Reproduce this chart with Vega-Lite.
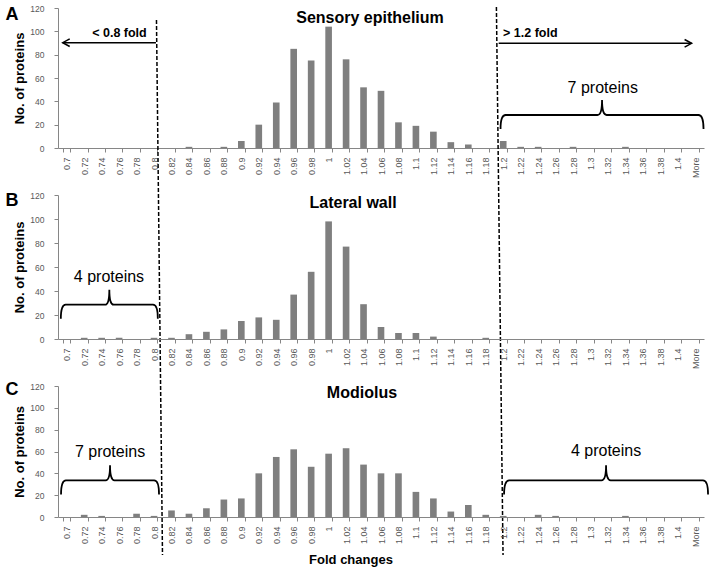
{
  "$schema": "https://vega.github.io/schema/vega-lite/v6.json",
  "autosize": {"type": "pad"},
  "padding": {"left": 5, "top": 4, "right": 0, "bottom": 0},
  "background": "white",
  "bounds": "flush",
  "spacing": 47,
  "config": {
    "view": {"stroke": null},
    "font": "Liberation Sans",
    "axis": {"domainColor": "#868686", "tickColor": "#868686", "labelColor": "#595959", "labelFontSize": 8.5, "tickSize": 4, "grid": false, "titleFontSize": 13, "titleFontWeight": "bold", "titleColor": "#000000", "labelFont": "Liberation Sans", "titleFont": "Liberation Sans"},
    "text": {"font": "Liberation Sans", "color": "#000000"}
  },
  "datasets": {
    "hist": [
      {"panel": "A", "bin": "0.7", "count": 0}, {"panel": "A", "bin": "0.72", "count": 0}, {"panel": "A", "bin": "0.74", "count": 0}, {"panel": "A", "bin": "0.76", "count": 0}, {"panel": "A", "bin": "0.78", "count": 0}, {"panel": "A", "bin": "0.8", "count": 0}, {"panel": "A", "bin": "0.82", "count": 0}, {"panel": "A", "bin": "0.84", "count": 1}, {"panel": "A", "bin": "0.86", "count": 0}, {"panel": "A", "bin": "0.88", "count": 1}, {"panel": "A", "bin": "0.9", "count": 6}, {"panel": "A", "bin": "0.92", "count": 20}, {"panel": "A", "bin": "0.94", "count": 39}, {"panel": "A", "bin": "0.96", "count": 85}, {"panel": "A", "bin": "0.98", "count": 75}, {"panel": "A", "bin": "1", "count": 104}, {"panel": "A", "bin": "1.02", "count": 76}, {"panel": "A", "bin": "1.04", "count": 52}, {"panel": "A", "bin": "1.06", "count": 49}, {"panel": "A", "bin": "1.08", "count": 22}, {"panel": "A", "bin": "1.1", "count": 19}, {"panel": "A", "bin": "1.12", "count": 14}, {"panel": "A", "bin": "1.14", "count": 5}, {"panel": "A", "bin": "1.16", "count": 3}, {"panel": "A", "bin": "1.18", "count": 0}, {"panel": "A", "bin": "1.2", "count": 6}, {"panel": "A", "bin": "1.22", "count": 1}, {"panel": "A", "bin": "1.24", "count": 1}, {"panel": "A", "bin": "1.26", "count": 0}, {"panel": "A", "bin": "1.28", "count": 1}, {"panel": "A", "bin": "1.3", "count": 0}, {"panel": "A", "bin": "1.32", "count": 0}, {"panel": "A", "bin": "1.34", "count": 1}, {"panel": "A", "bin": "1.36", "count": 0}, {"panel": "A", "bin": "1.38", "count": 0}, {"panel": "A", "bin": "1.4", "count": 0}, {"panel": "A", "bin": "More", "count": 0},
      {"panel": "B", "bin": "0.7", "count": 0}, {"panel": "B", "bin": "0.72", "count": 1}, {"panel": "B", "bin": "0.74", "count": 1}, {"panel": "B", "bin": "0.76", "count": 1}, {"panel": "B", "bin": "0.78", "count": 0}, {"panel": "B", "bin": "0.8", "count": 1}, {"panel": "B", "bin": "0.82", "count": 1}, {"panel": "B", "bin": "0.84", "count": 4}, {"panel": "B", "bin": "0.86", "count": 6}, {"panel": "B", "bin": "0.88", "count": 8}, {"panel": "B", "bin": "0.9", "count": 15}, {"panel": "B", "bin": "0.92", "count": 18}, {"panel": "B", "bin": "0.94", "count": 16}, {"panel": "B", "bin": "0.96", "count": 37}, {"panel": "B", "bin": "0.98", "count": 56}, {"panel": "B", "bin": "1", "count": 98}, {"panel": "B", "bin": "1.02", "count": 77}, {"panel": "B", "bin": "1.04", "count": 29}, {"panel": "B", "bin": "1.06", "count": 10}, {"panel": "B", "bin": "1.08", "count": 5}, {"panel": "B", "bin": "1.1", "count": 5}, {"panel": "B", "bin": "1.12", "count": 2}, {"panel": "B", "bin": "1.14", "count": 0}, {"panel": "B", "bin": "1.16", "count": 0}, {"panel": "B", "bin": "1.18", "count": 1}, {"panel": "B", "bin": "1.2", "count": 0}, {"panel": "B", "bin": "1.22", "count": 0}, {"panel": "B", "bin": "1.24", "count": 0}, {"panel": "B", "bin": "1.26", "count": 0}, {"panel": "B", "bin": "1.28", "count": 0}, {"panel": "B", "bin": "1.3", "count": 0}, {"panel": "B", "bin": "1.32", "count": 0}, {"panel": "B", "bin": "1.34", "count": 0}, {"panel": "B", "bin": "1.36", "count": 0}, {"panel": "B", "bin": "1.38", "count": 0}, {"panel": "B", "bin": "1.4", "count": 0}, {"panel": "B", "bin": "More", "count": 0},
      {"panel": "C", "bin": "0.7", "count": 0}, {"panel": "C", "bin": "0.72", "count": 2}, {"panel": "C", "bin": "0.74", "count": 1}, {"panel": "C", "bin": "0.76", "count": 0}, {"panel": "C", "bin": "0.78", "count": 3}, {"panel": "C", "bin": "0.8", "count": 1}, {"panel": "C", "bin": "0.82", "count": 6}, {"panel": "C", "bin": "0.84", "count": 3}, {"panel": "C", "bin": "0.86", "count": 8}, {"panel": "C", "bin": "0.88", "count": 16}, {"panel": "C", "bin": "0.9", "count": 17}, {"panel": "C", "bin": "0.92", "count": 40}, {"panel": "C", "bin": "0.94", "count": 55}, {"panel": "C", "bin": "0.96", "count": 62}, {"panel": "C", "bin": "0.98", "count": 46}, {"panel": "C", "bin": "1", "count": 58}, {"panel": "C", "bin": "1.02", "count": 63}, {"panel": "C", "bin": "1.04", "count": 48}, {"panel": "C", "bin": "1.06", "count": 40}, {"panel": "C", "bin": "1.08", "count": 40}, {"panel": "C", "bin": "1.1", "count": 23}, {"panel": "C", "bin": "1.12", "count": 17}, {"panel": "C", "bin": "1.14", "count": 5}, {"panel": "C", "bin": "1.16", "count": 11}, {"panel": "C", "bin": "1.18", "count": 2}, {"panel": "C", "bin": "1.2", "count": 1}, {"panel": "C", "bin": "1.22", "count": 0}, {"panel": "C", "bin": "1.24", "count": 2}, {"panel": "C", "bin": "1.26", "count": 1}, {"panel": "C", "bin": "1.28", "count": 0}, {"panel": "C", "bin": "1.3", "count": 0}, {"panel": "C", "bin": "1.32", "count": 0}, {"panel": "C", "bin": "1.34", "count": 1}, {"panel": "C", "bin": "1.36", "count": 0}, {"panel": "C", "bin": "1.38", "count": 0}, {"panel": "C", "bin": "1.4", "count": 0}, {"panel": "C", "bin": "More", "count": 0}
    ]
  },
  "vconcat": [
    {
      "width": 646, "height": 140,
      "layer": [
        {
          "data": {"name": "hist"},
          "transform": [{"filter": "datum.panel == 'A'"}],
          "mark": {"type": "bar", "color": "#7f7f7f"},
          "encoding": {
            "x": {"field": "bin", "type": "ordinal", "sort": null, "scale": {"paddingInner": 0.62, "paddingOuter": 0.31}, "axis": {"title": null, "labelAngle": -90, "labelFontSize": 9, "tickBand": "extent", "labelPadding": 5}},
            "y": {"field": "count", "type": "quantitative", "scale": {"domain": [0, 120], "nice": false}, "axis": {"title": "No. of proteins", "values": [0, 20, 40, 60, 80, 100, 120], "labelPadding": 10, "titlePadding": 3}}
          }
        },
        {
          "data": {"values": [{}]},
          "layer": [
            {"mark": {"type": "text", "text": "Sensory epithelium", "fontSize": 16, "fontWeight": "bold", "align": "center", "baseline": "middle"},
             "encoding": {"x": {"datum": 17.87, "type": "quantitative", "scale": {"domain": [0, 37], "nice": false, "zero": false}, "axis": null}, "y": {"datum": 111.4, "type": "quantitative", "scale": {"domain": [0, 120], "nice": false, "zero": false}, "axis": null}}},
            {"mark": {"type": "text", "text": "A", "fontSize": 18, "fontWeight": "bold", "align": "center", "baseline": "middle"},
             "encoding": {"x": {"datum": -2.63, "type": "quantitative"}, "y": {"datum": 114, "type": "quantitative"}}},
            {"mark": {"type": "text", "text": "< 0.8 fold", "fontSize": 12.5, "fontWeight": "bold", "align": "center", "baseline": "middle"},
             "encoding": {"x": {"datum": 3.52, "type": "quantitative"}, "y": {"datum": 98.6, "type": "quantitative"}}},
            {"mark": {"type": "text", "text": "> 1.2 fold", "fontSize": 12.5, "fontWeight": "bold", "align": "center", "baseline": "middle"},
             "encoding": {"x": {"datum": 27.05, "type": "quantitative"}, "y": {"datum": 98.6, "type": "quantitative"}}},
            {"mark": {"type": "rule", "color": "black", "strokeWidth": 1.5},
             "encoding": {"x": {"datum": 0.27, "type": "quantitative"}, "x2": {"datum": 5.61}, "y": {"datum": 90.3, "type": "quantitative"}}},
            {"mark": {"type": "point", "shape": "M1,-0.55L0,0L1,0.55", "size": 196, "filled": false, "color": "black", "strokeWidth": 1.5, "opacity": 1},
             "encoding": {"x": {"datum": 0.27, "type": "quantitative"}, "y": {"datum": 90.3, "type": "quantitative"}}},
            {"mark": {"type": "rule", "color": "black", "strokeWidth": 1.5},
             "encoding": {"x": {"datum": 25.24, "type": "quantitative"}, "x2": {"datum": 36.29}, "y": {"datum": 89.7, "type": "quantitative"}}},
            {"mark": {"type": "point", "shape": "M-1,-0.55L0,0L-1,0.55", "size": 196, "filled": false, "color": "black", "strokeWidth": 1.5, "opacity": 1},
             "encoding": {"x": {"datum": 36.29, "type": "quantitative"}, "y": {"datum": 89.7, "type": "quantitative"}}},
            {"mark": {"type": "text", "text": "7 proteins", "fontSize": 16, "align": "center", "baseline": "middle"},
             "encoding": {"x": {"datum": 31.2, "type": "quantitative"}, "y": {"datum": 51.4, "type": "quantitative"}}},
            {"mark": {"type": "point", "shape": "M-1,0.138Q-1,0 -0.95,0L-0.045,0Q0,0 0,-0.148Q0,0 0.045,0L0.95,0Q1,0 1,0.138", "size": 41209, "filled": false, "color": "black", "strokeWidth": 1.8, "opacity": 1},
             "encoding": {"x": {"datum": 31.16, "type": "quantitative"}, "y": {"datum": 28.3, "type": "quantitative"}}},
            {"mark": {"type": "rule", "color": "black", "strokeWidth": 1.5, "strokeDash": [4, 2]},
             "encoding": {"x": {"datum": 5.64, "type": "quantitative"}, "x2": {"datum": 5.985}, "y": {"datum": 109.7, "type": "quantitative"}, "y2": {"datum": -348.9}}},
            {"mark": {"type": "rule", "color": "black", "strokeWidth": 1.5, "strokeDash": [4, 2]},
             "encoding": {"x": {"datum": 25.11, "type": "quantitative"}, "x2": {"datum": 25.49}, "y": {"datum": 120.9, "type": "quantitative"}, "y2": {"datum": -348.9}}}
          ]
        }
      ],
      "resolve": {"scale": {"x": "independent", "y": "independent"}, "axis": {"x": "independent", "y": "independent"}}
    },
    {
      "width": 646, "height": 144,
      "layer": [
        {
          "data": {"name": "hist"},
          "transform": [{"filter": "datum.panel == 'B'"}],
          "mark": {"type": "bar", "color": "#7f7f7f"},
          "encoding": {
            "x": {"field": "bin", "type": "ordinal", "sort": null, "scale": {"paddingInner": 0.62, "paddingOuter": 0.31}, "axis": {"title": null, "labelAngle": -90, "labelFontSize": 9, "tickBand": "extent", "labelPadding": 5}},
            "y": {"field": "count", "type": "quantitative", "scale": {"domain": [0, 120], "nice": false}, "axis": {"title": "No. of proteins", "values": [0, 20, 40, 60, 80, 100, 120], "labelPadding": 10, "titlePadding": 3}}
          }
        },
        {
          "data": {"values": [{}]},
          "layer": [
            {"mark": {"type": "text", "text": "Lateral wall", "fontSize": 16, "fontWeight": "bold", "align": "center", "baseline": "middle"},
             "encoding": {"x": {"datum": 16.9, "type": "quantitative", "scale": {"domain": [0, 37], "nice": false, "zero": false}, "axis": null}, "y": {"datum": 113.3, "type": "quantitative", "scale": {"domain": [0, 120], "nice": false, "zero": false}, "axis": null}}},
            {"mark": {"type": "text", "text": "B", "fontSize": 18, "fontWeight": "bold", "align": "center", "baseline": "middle"},
             "encoding": {"x": {"datum": -2.63, "type": "quantitative"}, "y": {"datum": 115, "type": "quantitative"}}},
            {"mark": {"type": "text", "text": "4 proteins", "fontSize": 16, "align": "center", "baseline": "middle"},
             "encoding": {"x": {"datum": 2.92, "type": "quantitative"}, "y": {"datum": 51.7, "type": "quantitative"}}},
            {"mark": {"type": "point", "shape": "M-1,0.29Q-1,0 -0.9,0L-0.09,0Q0,0 0,-0.31Q0,0 0.09,0L0.9,0Q1,0 1,0.29", "size": 9409, "filled": false, "color": "black", "strokeWidth": 1.8, "opacity": 1},
             "encoding": {"x": {"datum": 2.94, "type": "quantitative"}, "y": {"datum": 28.6, "type": "quantitative"}}}
          ]
        }
      ],
      "resolve": {"scale": {"x": "independent", "y": "independent"}, "axis": {"x": "independent", "y": "independent"}}
    },
    {
      "width": 646, "height": 131,
      "layer": [
        {
          "data": {"name": "hist"},
          "transform": [{"filter": "datum.panel == 'C'"}],
          "mark": {"type": "bar", "color": "#7f7f7f"},
          "encoding": {
            "x": {"field": "bin", "type": "ordinal", "sort": null, "scale": {"paddingInner": 0.62, "paddingOuter": 0.31}, "axis": {"title": null, "labelAngle": -90, "labelFontSize": 9, "tickBand": "extent", "labelPadding": 5}},
            "y": {"field": "count", "type": "quantitative", "scale": {"domain": [0, 120], "nice": false}, "axis": {"title": "No. of proteins", "values": [0, 20, 40, 60, 80, 100, 120], "labelPadding": 10, "titlePadding": 3}}
          }
        },
        {
          "data": {"values": [{}]},
          "layer": [
            {"mark": {"type": "text", "text": "Modiolus", "fontSize": 16, "fontWeight": "bold", "align": "center", "baseline": "middle"},
             "encoding": {"x": {"datum": 17.41, "type": "quantitative", "scale": {"domain": [0, 37], "nice": false, "zero": false}, "axis": null}, "y": {"datum": 113.6, "type": "quantitative", "scale": {"domain": [0, 120], "nice": false, "zero": false}, "axis": null}}},
            {"mark": {"type": "text", "text": "C", "fontSize": 18, "fontWeight": "bold", "align": "center", "baseline": "middle"},
             "encoding": {"x": {"datum": -2.63, "type": "quantitative"}, "y": {"datum": 116.3, "type": "quantitative"}}},
            {"mark": {"type": "text", "text": "7 proteins", "fontSize": 16, "align": "center", "baseline": "middle"},
             "encoding": {"x": {"datum": 2.98, "type": "quantitative"}, "y": {"datum": 59.8, "type": "quantitative"}}},
            {"mark": {"type": "point", "shape": "M-1,0.29Q-1,0 -0.9,0L-0.09,0Q0,0 0,-0.31Q0,0 0.09,0L0.9,0Q1,0 1,0.29", "size": 9604, "filled": false, "color": "black", "strokeWidth": 1.8, "opacity": 1},
             "encoding": {"x": {"datum": 2.98, "type": "quantitative"}, "y": {"datum": 33.6, "type": "quantitative"}}},
            {"mark": {"type": "text", "text": "4 proteins", "fontSize": 16, "align": "center", "baseline": "middle"},
             "encoding": {"x": {"datum": 31.39, "type": "quantitative"}, "y": {"datum": 60.5, "type": "quantitative"}}},
            {"mark": {"type": "point", "shape": "M-1,0.138Q-1,0 -0.95,0L-0.045,0Q0,0 0,-0.148Q0,0 0.045,0L0.95,0Q1,0 1,0.138", "size": 41616, "filled": false, "color": "black", "strokeWidth": 1.8, "opacity": 1},
             "encoding": {"x": {"datum": 31.39, "type": "quantitative"}, "y": {"datum": 33.6, "type": "quantitative"}}},
            {"mark": {"type": "text", "text": "Fold changes", "fontSize": 13, "fontWeight": "bold", "align": "center", "baseline": "middle"},
             "encoding": {"x": {"datum": 16.78, "type": "quantitative"}, "y": {"datum": -39.4, "type": "quantitative"}}}
          ]
        }
      ],
      "resolve": {"scale": {"x": "independent", "y": "independent"}, "axis": {"x": "independent", "y": "independent"}}
    }
  ]
}
